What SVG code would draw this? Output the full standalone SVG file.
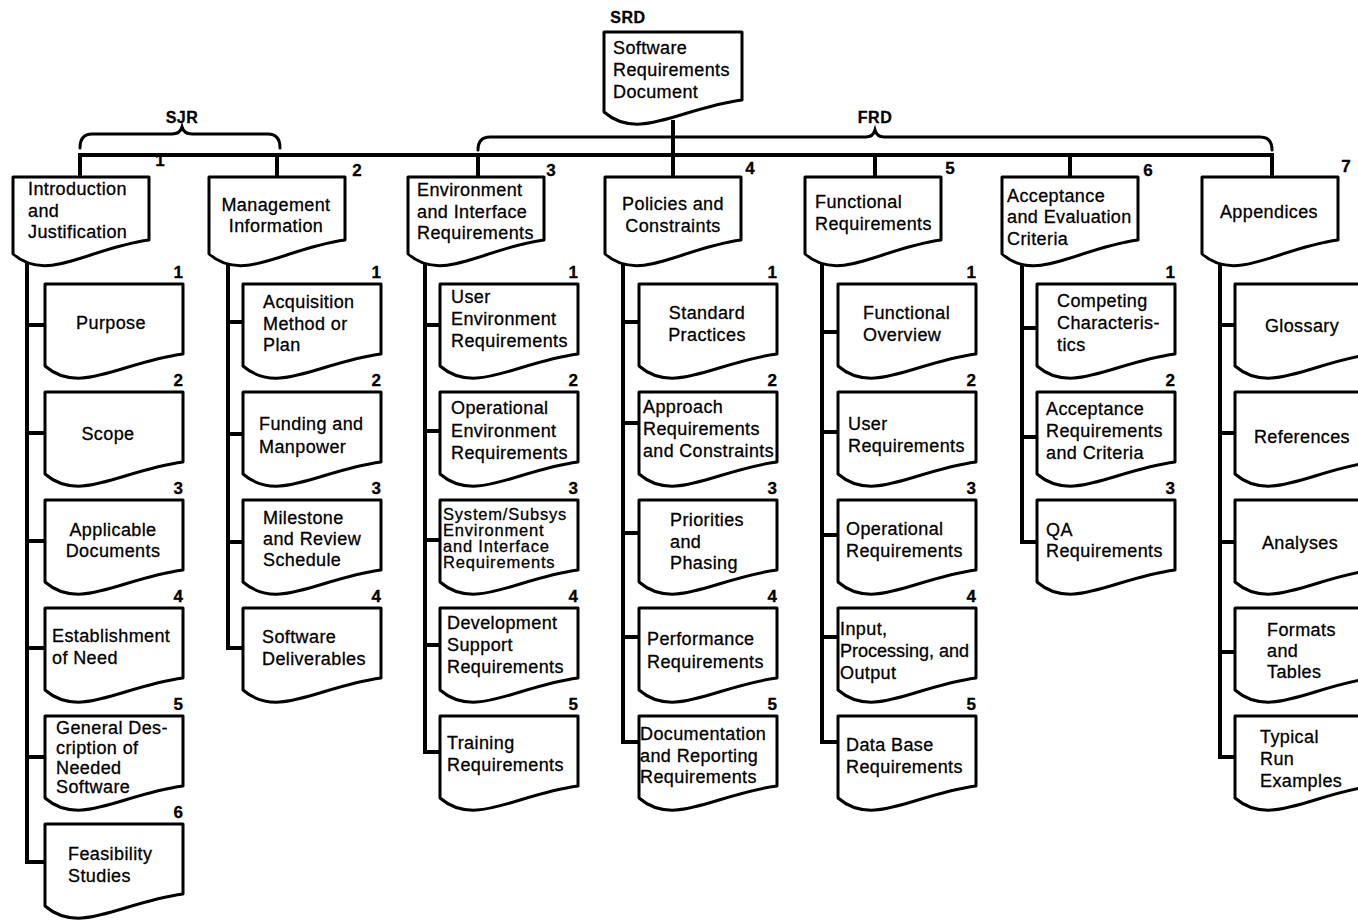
<svg xmlns="http://www.w3.org/2000/svg" width="1358" height="920" viewBox="0 0 1358 920">
<style>
.box{fill:#fff;stroke:#000;stroke-width:3;stroke-linejoin:round}
.wire{fill:none;stroke:#000;stroke-width:4;stroke-linejoin:miter}
.brace{fill:none;stroke:#000;stroke-width:3;stroke-linecap:round}
text{font-family:"Liberation Sans",Arial,Helvetica,sans-serif;font-size:18px;letter-spacing:0.4px;fill:#000;stroke:#000;stroke-width:0.3px}
.c{text-anchor:middle}
.num{font-weight:bold;font-size:17px;text-anchor:end;letter-spacing:0}
.hn{font-weight:bold;font-size:17px;text-anchor:middle;letter-spacing:0}
.lbl{font-weight:bold;font-size:16px;text-anchor:middle;letter-spacing:0.5px}
.t0{letter-spacing:0}
.sm{font-size:16.5px;letter-spacing:0.8px}
</style>
<defs>
<path id="doc" class="box" d="M0 0 H138 V70 C76 78 34.5 112 0 82 Z"/>
<path id="hdr" class="box" d="M0 0 H136 V63 C75 71 34 107 0 77 Z"/>
</defs>
<rect width="1358" height="920" fill="#fff"/>

<g id="connectors">
<path class="wire" d="M80 177 V155 H1272 V177"/>
<path class="wire" d="M277 155 V177 M478 155 V177 M673 120 V177 M875 155 V177 M1070 155 V177"/>
<path class="wire" d="M27 250 V862 H45 M27 325 H45 M27 433 H45 M27 541 H45 M27 648 H45 M27 757 H45"/>
<path class="wire" d="M228 250 V648 H243 M228 322 H243 M228 434 H243 M228 542 H243"/>
<path class="wire" d="M425 250 V752 H440 M425 325 H440 M425 431 H440 M425 540 H440 M425 645 H440"/>
<path class="wire" d="M623 250 V742 H639 M623 322 H639 M623 423 H639 M623 533 H639 M623 637 H639"/>
<path class="wire" d="M822 250 V742 H838 M822 332 H838 M822 432 H838 M822 535 H838 M822 637 H838"/>
<path class="wire" d="M1022 250 V542 H1037 M1022 328 H1037 M1022 437 H1037"/>
<path class="wire" d="M1220 250 V757 H1235 M1220 325 H1235 M1220 433 H1235 M1220 542 H1235 M1220 652 H1235"/>
</g>

<g id="braces">
<path class="brace" d="M80 148 Q80 134 92 134 H172 Q180 134 182 127 Q184 134 192 134 H268 Q280 134 280 148"/>
<text class="lbl" x="182" y="123">SJR</text>
<path class="brace" d="M478 150 Q478 137 490 137 H866 Q873 137 875 130 Q877 137 884 137 H1260 Q1272 137 1272 150"/>
<text class="lbl" x="875" y="123">FRD</text>
</g>

<g id="srd">
<text class="lbl" x="628" y="23">SRD</text>
<path class="box" d="M604 32 H742 V100 C680 108 638.5 142 604 112 Z"/>
<text x="613" y="54">Software</text>
<text x="613" y="76">Requirements</text>
<text x="613" y="98">Document</text>
</g>

<!-- Column 1 -->
<g id="n1">
<use href="#hdr" x="13" y="177"/>
<text class="hn" x="160" y="166">1</text>
<text x="28" y="195">Introduction</text>
<text x="28" y="217">and</text>
<text x="28" y="238">Justification</text>
</g>
<g id="n1-1"><use href="#doc" x="45" y="284"/><text class="num" x="183" y="278">1</text><text class="c" x="111" y="329">Purpose</text></g>
<g id="n1-2"><use href="#doc" x="45" y="392"/><text class="num" x="183" y="386">2</text><text class="c" x="108" y="440">Scope</text></g>
<g id="n1-3"><use href="#doc" x="45" y="500"/><text class="num" x="183" y="494">3</text><text class="c" x="113" y="536">Applicable</text><text class="c" x="113" y="557">Documents</text></g>
<g id="n1-4"><use href="#doc" x="45" y="608"/><text class="num" x="183" y="602">4</text><text x="52" y="642">Establishment</text><text x="52" y="664">of Need</text></g>
<g id="n1-5"><use href="#doc" x="45" y="716"/><text class="num" x="183" y="710">5</text><text x="56" y="734">General Des-</text><text x="56" y="754">cription of</text><text x="56" y="774">Needed</text><text x="56" y="793">Software</text></g>
<g id="n1-6"><use href="#doc" x="45" y="824"/><text class="num" x="183" y="818">6</text><text x="68" y="860">Feasibility</text><text x="68" y="882">Studies</text></g>

<!-- Column 2 -->
<g id="n2">
<use href="#hdr" x="209" y="177"/>
<text class="hn" x="357" y="176">2</text>
<text class="c" x="276" y="211">Management</text>
<text class="c" x="276" y="232">Information</text>
</g>
<g id="n2-1"><use href="#doc" x="243" y="284"/><text class="num" x="381" y="278">1</text><text x="263" y="308">Acquisition</text><text x="263" y="330">Method or</text><text x="263" y="351">Plan</text></g>
<g id="n2-2"><use href="#doc" x="243" y="392"/><text class="num" x="381" y="386">2</text><text x="259" y="430">Funding and</text><text x="259" y="453">Manpower</text></g>
<g id="n2-3"><use href="#doc" x="243" y="500"/><text class="num" x="381" y="494">3</text><text x="263" y="524">Milestone</text><text x="263" y="545">and Review</text><text x="263" y="566">Schedule</text></g>
<g id="n2-4"><use href="#doc" x="243" y="608"/><text class="num" x="381" y="602">4</text><text x="262" y="643">Software</text><text x="262" y="665">Deliverables</text></g>

<!-- Column 3 -->
<g id="n3">
<use href="#hdr" x="408" y="177"/>
<text class="hn" x="551" y="176">3</text>
<text x="417" y="196">Environment</text>
<text x="417" y="218">and Interface</text>
<text x="417" y="239">Requirements</text>
</g>
<g id="n3-1"><use href="#doc" x="440" y="284"/><text class="num" x="578" y="278">1</text><text x="451" y="303">User</text><text x="451" y="325">Environment</text><text x="451" y="347">Requirements</text></g>
<g id="n3-2"><use href="#doc" x="440" y="392"/><text class="num" x="578" y="386">2</text><text x="451" y="414">Operational</text><text x="451" y="437">Environment</text><text x="451" y="459">Requirements</text></g>
<g id="n3-3"><use href="#doc" x="440" y="500"/><text class="num" x="578" y="494">3</text><text class="sm" x="443" y="520">System/Subsys</text><text class="sm" x="443" y="536">Environment</text><text class="sm" x="443" y="552">and Interface</text><text class="sm" x="443" y="568">Requirements</text></g>
<g id="n3-4"><use href="#doc" x="440" y="608"/><text class="num" x="578" y="602">4</text><text x="447" y="629">Development</text><text x="447" y="651">Support</text><text x="447" y="673">Requirements</text></g>
<g id="n3-5"><use href="#doc" x="440" y="716"/><text class="num" x="578" y="710">5</text><text x="447" y="749">Training</text><text x="447" y="771">Requirements</text></g>

<!-- Column 4 -->
<g id="n4">
<use href="#hdr" x="605" y="177"/>
<text class="hn" x="750" y="174">4</text>
<text class="c" x="673" y="210">Policies and</text>
<text class="c" x="673" y="232">Constraints</text>
</g>
<g id="n4-1"><use href="#doc" x="639" y="284"/><text class="num" x="777" y="278">1</text><text class="c" x="707" y="319">Standard</text><text class="c" x="707" y="341">Practices</text></g>
<g id="n4-2"><use href="#doc" x="639" y="392"/><text class="num" x="777" y="386">2</text><text x="643" y="413">Approach</text><text x="643" y="435">Requirements</text><text x="643" y="457" textLength="131" lengthAdjust="spacingAndGlyphs">and Constraints</text></g>
<g id="n4-3"><use href="#doc" x="639" y="500"/><text class="num" x="777" y="494">3</text><text x="670" y="526">Priorities</text><text x="670" y="548">and</text><text x="670" y="569">Phasing</text></g>
<g id="n4-4"><use href="#doc" x="639" y="608"/><text class="num" x="777" y="602">4</text><text x="647" y="645">Performance</text><text x="647" y="668">Requirements</text></g>
<g id="n4-5"><use href="#doc" x="639" y="716"/><text class="num" x="777" y="710">5</text><text x="640" y="740">Documentation</text><text x="640" y="762">and Reporting</text><text x="640" y="783">Requirements</text></g>

<!-- Column 5 -->
<g id="n5">
<use href="#hdr" x="805" y="177"/>
<text class="hn" x="950" y="174">5</text>
<text x="815" y="208">Functional</text>
<text x="815" y="230">Requirements</text>
</g>
<g id="n5-1"><use href="#doc" x="838" y="284"/><text class="num" x="976" y="278">1</text><text x="863" y="319">Functional</text><text x="863" y="341">Overview</text></g>
<g id="n5-2"><use href="#doc" x="838" y="392"/><text class="num" x="976" y="386">2</text><text x="848" y="430">User</text><text x="848" y="452">Requirements</text></g>
<g id="n5-3"><use href="#doc" x="838" y="500"/><text class="num" x="976" y="494">3</text><text x="846" y="535">Operational</text><text x="846" y="557">Requirements</text></g>
<g id="n5-4"><use href="#doc" x="838" y="608"/><text class="num" x="976" y="602">4</text><text x="840" y="635">Input,</text><text class="t0" x="840" y="657">Processing, and</text><text x="840" y="679">Output</text></g>
<g id="n5-5"><use href="#doc" x="838" y="716"/><text class="num" x="976" y="710">5</text><text x="846" y="751">Data Base</text><text x="846" y="773">Requirements</text></g>

<!-- Column 6 -->
<g id="n6">
<use href="#hdr" x="1002" y="177"/>
<text class="hn" x="1148" y="176">6</text>
<text x="1007" y="202">Acceptance</text>
<text x="1007" y="223">and Evaluation</text>
<text x="1007" y="245">Criteria</text>
</g>
<g id="n6-1"><use href="#doc" x="1037" y="284"/><text class="num" x="1175" y="278">1</text><text x="1057" y="307">Competing</text><text x="1057" y="329">Characteris-</text><text x="1057" y="351">tics</text></g>
<g id="n6-2"><use href="#doc" x="1037" y="392"/><text class="num" x="1175" y="386">2</text><text x="1046" y="415">Acceptance</text><text x="1046" y="437">Requirements</text><text x="1046" y="459">and Criteria</text></g>
<g id="n6-3"><use href="#doc" x="1037" y="500"/><text class="num" x="1175" y="494">3</text><text x="1046" y="536">QA</text><text x="1046" y="557">Requirements</text></g>

<!-- Column 7 -->
<g id="n7">
<use href="#hdr" x="1202" y="177"/>
<text class="hn" x="1346" y="172">7</text>
<text class="c" x="1269" y="218">Appendices</text>
</g>
<g id="n7-1"><use href="#doc" x="1235" y="284"/><text class="c" x="1302" y="332">Glossary</text></g>
<g id="n7-2"><use href="#doc" x="1235" y="392"/><text class="c" x="1302" y="443">References</text></g>
<g id="n7-3"><use href="#doc" x="1235" y="500"/><text class="c" x="1300" y="549">Analyses</text></g>
<g id="n7-4"><use href="#doc" x="1235" y="608"/><text x="1267" y="636">Formats</text><text x="1267" y="657">and</text><text x="1267" y="678">Tables</text></g>
<g id="n7-5"><use href="#doc" x="1235" y="716"/><text x="1260" y="743">Typical</text><text x="1260" y="765">Run</text><text x="1260" y="787">Examples</text></g>
</svg>
